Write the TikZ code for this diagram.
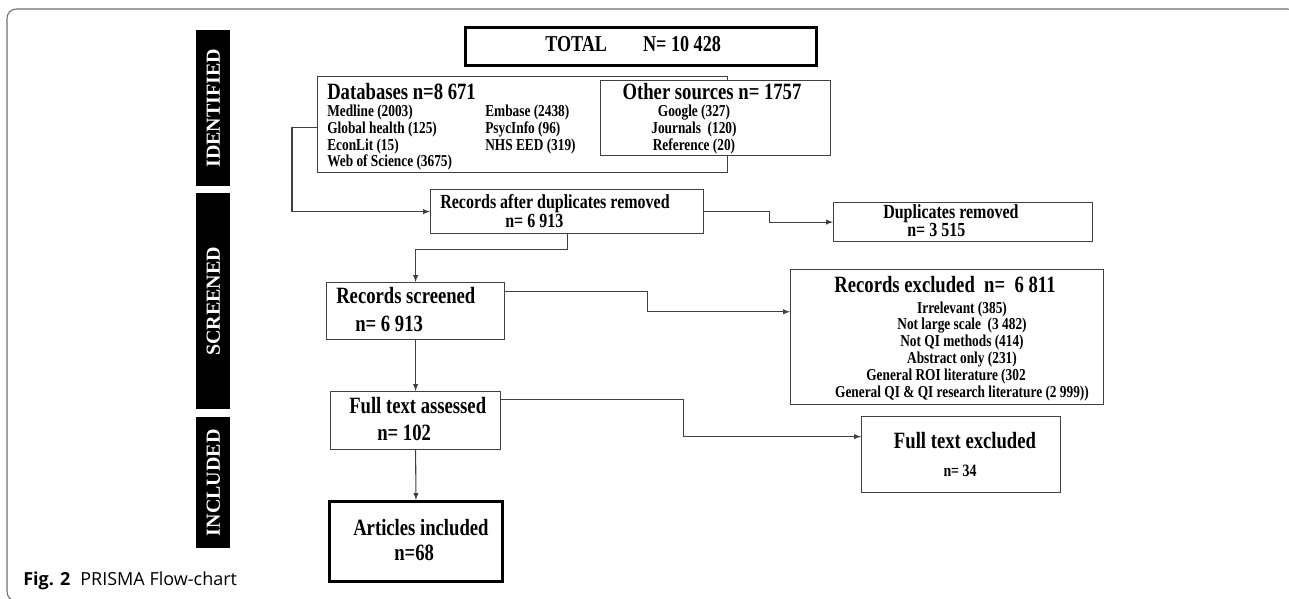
\documentclass[tikz,border=0pt]{standalone}
\usepackage{fontspec}
\setmainfont{Liberation Serif}
\newfontfamily\diag[FakeStretch=0.8]{Liberation Serif}
\newfontfamily\capfont{Open Sans}
\definecolor{edge}{RGB}{64,64,64}
\definecolor{framegray}{RGB}{112,112,112}

\begin{document}
\begin{tikzpicture}[x=0.75pt,y=-0.75pt]
  \tikzset{box/.style={draw=edge,line width=0.9pt,fill=white,rectangle,inner sep=0pt,anchor=north west}}
  \tikzset{heavy/.style={box,draw=black,line width=2.2pt}}
  \tikzset{band/.style={fill=black,inner sep=0pt,anchor=north west,minimum width=25.5pt}}
  \tikzset{bandtxt/.style={inner sep=0pt,text=white,rotate=90,font=\bfseries\fontsize{15}{18}\selectfont}}
  \tikzset{arrow/.style={draw=edge,line width=0.8pt,->,>=latex}}
  \tikzset{big/.style={inner sep=0pt,anchor=base west,font=\diag\bfseries\fontsize{17.5}{21}\selectfont}}
  \tikzset{mid/.style={inner sep=0pt,anchor=base west,font=\diag\bfseries\fontsize{15}{18}\selectfont}}
  \tikzset{small/.style={inner sep=0pt,anchor=base west,font=\diag\bfseries\fontsize{12.5}{12.4}\selectfont}}

  \useasboundingbox (0,0) rectangle (1289,599);
  \clip (0,0) rectangle (1289,599);

  % outer frame and caption
  \draw[draw=framegray,line width=0.8pt,rounded corners=7pt] (7,9) rectangle (1297,601);
  \node[inner sep=0pt,anchor=base west,font=\capfont\fontsize{13.5}{16}\selectfont] (caption) at (23,585) {\textbf{Fig. 2}\hspace{0.55em}PRISMA Flow-chart};

  % side bands
  \node[band,minimum height=117pt] (identband) at (196,30) {};
  \node[bandtxt] (identlabel) at (identband.center) {IDENTIFIED};
  \node[band,minimum height=162pt] (screenband) at (196,193) {};
  \node[bandtxt] (screenlabel) at (screenband.center) {SCREENED};
  \node[band,minimum height=98.25pt] (inclband) at (196,417) {};
  \node[bandtxt] (incllabel) at (inclband.center) {INCLUDED};

  % identification
  \node[heavy,minimum width=263.25pt,minimum height=28.5pt] (total) at (464,26) {};
  \node[big,font=\diag\bfseries\fontsize{17}{20}\selectfont] (totaltxt) at (545,52) {TOTAL\hspace{27pt}N= 10 428};

  \node[box,minimum width=307.5pt,minimum height=72pt] (db) at (317,76) {};
  \node[big] (dbtitle) at (327,100) {Databases n=8 671};
  \node[small] (dblistA) at (327,117) {\begin{tabular}[t]{@{}l@{}}Medline (2003)\\ Global health (125)\\ EconLit (15)\\ Web of Science (3675)\end{tabular}};
  \node[small] (dblistB) at (485,117) {\begin{tabular}[t]{@{}l@{}}Embase (2438)\\ PsycInfo (96)\\ NHS EED (319)\end{tabular}};

  \node[box,minimum width=172.5pt,minimum height=56.25pt] (other) at (600,80) {};
  \node[big,anchor=base] (othertitle) at (712,100) {Other sources n= 1757};
  \node[small,anchor=base] (otherlist) at (694,117) {\begin{tabular}[t]{@{}c@{}}Google (327)\\ Journals\ \ (120)\\ Reference (20)\end{tabular}};

  % screening
  \node[box,minimum width=204.75pt,minimum height=33pt] (after) at (430,189) {};
  \node[mid] (aftertxt) at (440,209) {Records after duplicates removed};
  \node[mid] (aftern) at (505,228) {n= 6 913};

  \node[box,minimum width=194.25pt,minimum height=29.25pt] (dup) at (833,202) {};
  \node[mid] (duptxt) at (883,219) {Duplicates removed};
  \node[mid] (dupn) at (907,237) {n= 3 515};

  \node[box,minimum width=133.5pt,minimum height=42.75pt] (screened) at (326,282) {};
  \node[big] (screenedtxt) at (336,303) {Records screened};
  \node[big] (screenedn) at (355,331) {n= 6 913};

  \node[box,minimum width=234.75pt,minimum height=101.25pt] (excluded) at (790,269) {};
  \node[big,anchor=base] (excludedtxt) at (945,292) {Records excluded\ \ n=\ \ 6 811};
  \node[small,anchor=base,font=\diag\bfseries\fontsize{12.5}{12.6}\selectfont] (excludedlist) at (962,313) {\begin{tabular}[t]{@{}c@{}}Irrelevant (385)\\ Not large scale\ \ (3 482)\\ Not QI methods (414)\\ Abstract only (231)\\ General ROI literature (302\hspace*{24pt}\\ General QI \& QI research literature (2 999))\end{tabular}};

  \node[box,minimum width=127.5pt,minimum height=43.5pt] (full) at (330,391) {};
  \node[big] (fulltxt) at (349,413) {Full text assessed};
  \node[big] (fulln) at (377,440) {n= 102};

  \node[box,minimum width=149.25pt,minimum height=57pt] (fullexcl) at (861,416) {};
  \node[big,anchor=base] (fullexcltxt) at (965,448) {Full text excluded};
  \node[mid,anchor=base,font=\diag\bfseries\fontsize{13}{16}\selectfont] (fullexcln) at (960,476) {n= 34};

  % inclusion
  \node[heavy,minimum width=129.75pt,minimum height=60pt] (articles) at (328,500) {};
  \node[big] (articlestxt) at (353,535) {Articles included};
  \node[big] (articlesn) at (394,560) {n=68};

  % connectors
  \draw[arrow] ([yshift=-2pt]db.west) -- ++(-25,0) |- (after.west);
  \draw[arrow] (after.east) -- ++(65,0) |- (dup.west);
  \draw[arrow] (after.south) -- ++(0,15) -| (screened.north);
  \draw[arrow] ([yshift=15pt]screened.east) -- ++(142,0) |- ([yshift=19pt]excluded.west);
  \draw[arrow] (screened.south) -- (full.north);
  \draw[arrow] ([yshift=16pt]full.east) -- ++(182,0) |- ([yshift=13.5pt]fullexcl.west);
  \draw[arrow] (full.south) -- (articles.north);
\end{tikzpicture}
\end{document}
